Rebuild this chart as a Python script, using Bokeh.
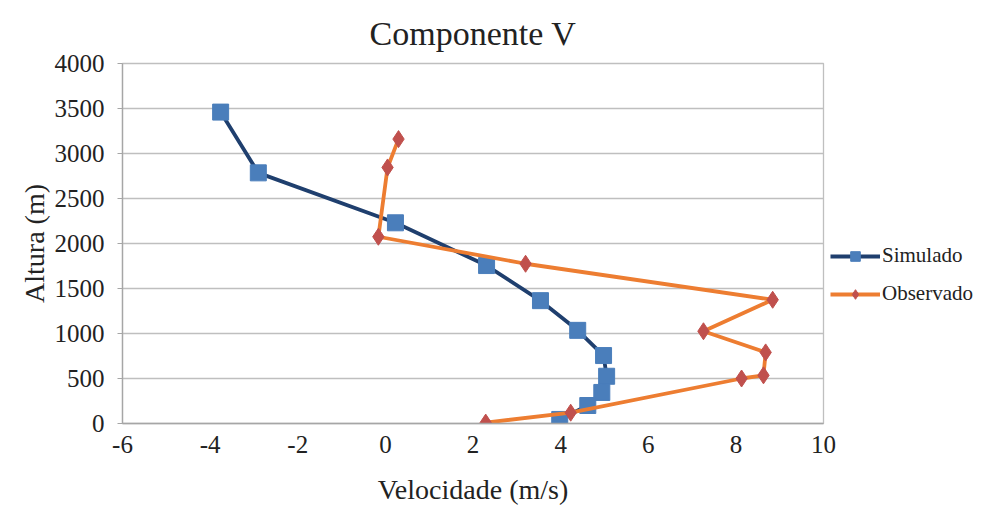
from bokeh.plotting import figure
from bokeh.models import Legend, LegendItem, FixedTicker
from bokeh.embed import file_html
from bokeh.resources import INLINE

# Data
sim_vel = [-3.76, -2.90, 0.23, 2.31, 3.54, 4.39, 4.98, 5.05, 4.94, 4.62, 3.98]
sim_alt = [3460, 2785, 2230, 1755, 1365, 1035, 755, 525, 345, 200, 45]
obs_vel = [0.30, 0.05, -0.16, 3.20, 8.84, 7.26, 8.68, 8.63, 8.13, 4.23, 2.29]
obs_alt = [3160, 2845, 2075, 1775, 1375, 1025, 790, 535, 500, 120, 10]
x_ticks = [-6, -4, -2, 0, 2, 4, 6, 8, 10]
y_ticks = [0, 500, 1000, 1500, 2000, 2500, 3000, 3500, 4000]

FONT = "Liberation Serif"

p = figure(frame_width=701, frame_height=360, output_backend="svg", toolbar_location=None,
           x_range=(-6, 10), y_range=(0, 4000),
           min_border_left=122, min_border_right=0, min_border_top=63, min_border_bottom=85)

p.title.text = "Componente V"
p.title.text_font = FONT
p.title.text_font_size = "34px"
p.title.text_font_style = "normal"
p.title.align = "center"
p.title.text_color = "#222222"
p.title.standoff = 24

sim_line = p.line(sim_vel, sim_alt, line_color="#1F3F6E", line_width=3.8)
sim_mark = p.scatter(sim_vel, sim_alt, marker="square", size=16, fill_color="#4A7EBB", line_color="#4A7EBB")
obs_line = p.line(obs_vel, obs_alt, line_color="#ED7D31", line_width=3.8)
obs_mark = p.scatter(obs_vel, obs_alt, marker="diamond", size=17, fill_color="#C0504D", line_color="#C0504D")

p.xaxis.ticker = FixedTicker(ticks=x_ticks)
p.yaxis.ticker = FixedTicker(ticks=y_ticks)
p.xaxis.major_label_overrides = {t: str(t) for t in x_ticks}
p.xgrid.visible = False
p.ygrid.grid_line_color = "#BFBFBF"
p.ygrid.grid_line_width = 1.3

for ax in (p.xaxis, p.yaxis):
    ax.axis_line_color = "#A6A6A6"
    ax.axis_line_width = 1.3
    ax.major_label_text_font = FONT
    ax.major_label_text_font_size = "25px"
    ax.major_label_text_color = "#222222"
    ax.axis_label_text_font = FONT
    ax.axis_label_text_font_size = "28px"
    ax.axis_label_text_font_style = "normal"
    ax.axis_label_text_color = "#222222"
    ax.minor_tick_line_color = None

p.xaxis.major_tick_line_color = None
p.xaxis.major_label_standoff = 6
p.yaxis.major_tick_line_color = "#A6A6A6"
p.yaxis.major_tick_in = 0
p.yaxis.major_tick_out = 5
p.yaxis.major_label_standoff = 13
p.xaxis.axis_label = "Velocidade (m/s)"
p.yaxis.axis_label = "Altura (m)"
p.xaxis.axis_label_standoff = 18
p.yaxis.axis_label_standoff = 2

p.outline_line_color = "#BFBFBF"
p.outline_line_width = 1.3

legend = Legend(items=[
    LegendItem(label="Simulado", renderers=[sim_line, sim_mark]),
    LegendItem(label="Observado", renderers=[obs_line, obs_mark]),
], location=(7, 117))
legend.label_text_font = FONT
legend.label_text_font_size = "21px"
legend.label_text_color = "#222222"
legend.glyph_width = 50
legend.glyph_height = 24
legend.label_height = 24
legend.spacing = 13
legend.border_line_color = None
legend.background_fill_alpha = 0
legend.padding = 0
legend.margin = 0
legend.label_standoff = 2
p.add_layout(legend, "right")

open("out.html", "w").write(file_html(p, INLINE))
